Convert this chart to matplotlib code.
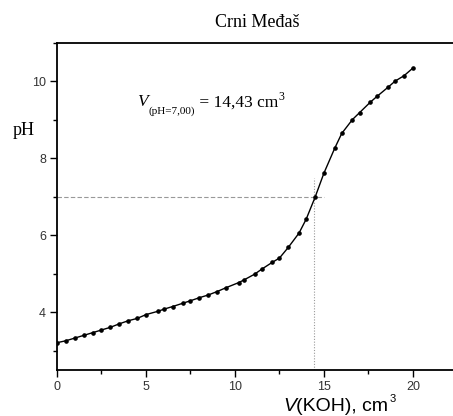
import matplotlib
matplotlib.use("Agg")
import matplotlib.pyplot as plt
from matplotlib.ticker import MultipleLocator

#_________data__________________
v_koh = [0, 0.5, 1.0, 1.5, 2.0, 2.5, 3.0, 3.5, 4.0, 4.5, 5.0, 5.7, 6.0, 6.5,
         7.1, 7.5, 8.0, 8.5, 9.0, 9.5, 10.2, 10.5, 11.1, 11.5, 12.1, 12.5,
         13.0, 13.6, 14.0, 14.5, 15.0, 15.6, 16.0, 16.6, 17.0, 17.6, 18.0,
         18.6, 19.0, 19.5, 20.0]
ph = [3.21, 3.26, 3.33, 3.40, 3.47, 3.54, 3.61, 3.70, 3.78, 3.84, 3.94, 4.03,
      4.08, 4.15, 4.24, 4.30, 4.38, 4.45, 4.54, 4.64, 4.77, 4.84, 4.99, 5.12,
      5.30, 5.41, 5.69, 6.06, 6.42, 6.99, 7.62, 8.26, 8.65, 9.01, 9.19, 9.46,
      9.62, 9.85, 10.01, 10.15, 10.35]
v_eq = 14.43
ph_eq = 7.0
title = "Crni Međaš"
#_______________________________

fig = plt.figure(figsize=(4.53, 4.16), dpi=100)
ax = fig.add_axes([57/453, 46/416, 1 - 57/453, 327/416])

# guide lines at the equivalence point
ax.plot([0, 15.0], [ph_eq, ph_eq], color='#999999', lw=0.8, ls=(0, (4, 2)))
ax.plot([v_eq, v_eq], [2.5, 7.5], color='#999999', lw=0.8, ls=(0, (1, 1.5)))

ax.plot(v_koh, ph, color='black', lw=1.0, marker='o', ms=2.3)

ax.set_xlim(0, 22.25)
ax.set_ylim(2.5, 11.0)
ax.xaxis.set_major_locator(MultipleLocator(5))
ax.xaxis.set_minor_locator(MultipleLocator(2.5))
ax.yaxis.set_major_locator(MultipleLocator(2))
ax.yaxis.set_minor_locator(MultipleLocator(1))
ax.spines['right'].set_visible(False)
for s in ['left', 'bottom', 'top']:
    ax.spines[s].set_linewidth(1.3)
ax.tick_params(which='both', direction='out', top=False, right=False, width=1.0,
               labelsize=9, labelcolor='#333333', labelfontfamily='Liberation Sans')
ax.tick_params(which='major', length=5, pad=3)
ax.tick_params(which='minor', length=3)

# annotation V_(pH=7,00) = 14,43 cm^3, built from pieces
serif = 'Liberation Serif'
t1 = ax.text(4.49, 9.35, "V", family=serif, style='italic', fontsize=12.5,
             va='baseline', ha='left')
t2 = ax.annotate("(pH=7,00)", xy=(1, 0), xycoords=t1, xytext=(0.5, -2.3),
                 textcoords='offset points', family=serif, fontsize=8,
                 ha='left', va='baseline')
t3 = ax.annotate(" = 14,43 cm", xy=(1, 0), xycoords=(t2, t1),
                 family=serif, fontsize=12.5, ha='left', va='bottom')
ax.annotate("3", xy=(1, 1), xycoords=t3, xytext=(0.5, 2.5),
            textcoords='offset points', family=serif, fontsize=8.5,
            ha='left', va='top')

fig.text(257/453, 0.935, title, family=serif, fontsize=13,
         ha='center', va='baseline')
fig.text(13/453, (416-135)/416, "pH", family=serif, fontsize=13,
         ha='left', va='baseline')

vt = fig.text(283/453, 0.011, "V", family='Liberation Sans', style='italic',
              fontsize=14, ha='left', va='baseline')
lab = ax.annotate("(KOH), cm", xy=(1, 0), xycoords=vt, family='Liberation Sans',
                  fontsize=14, ha='left', va='bottom', annotation_clip=False)
ax.annotate("3", xy=(1, 1), xycoords=lab, family='Liberation Sans',
            fontsize=8, ha='left', va='top', xytext=(0.8, 3),
            textcoords='offset points', annotation_clip=False)

fig.savefig("out.png", dpi=100)
